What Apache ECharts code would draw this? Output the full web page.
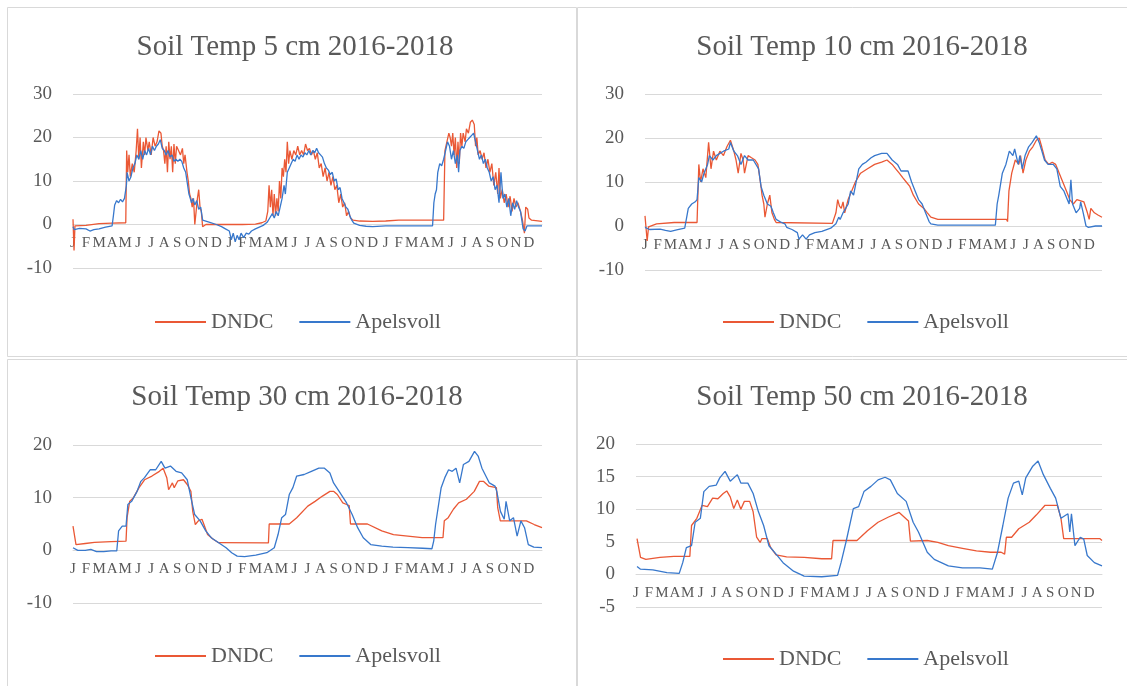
<!DOCTYPE html>
<html>
<head>
<meta charset="utf-8">
<script src="https://cdn.jsdelivr.net/npm/echarts/dist/echarts.min.js"></script>
<style>
  html, body { margin: 0; padding: 0; background: #fff; }
  #chart { width: 1127px; height: 686px; }
</style>
</head>
<body>
<div id="chart"></div>
<script>
// month letters along the x axis (3 years)
const monthLetters = ['J', 'F', 'M', 'A', 'M', 'J', 'J', 'A', 'S', 'O', 'N', 'D']
const seriesNames = ['DNDC', 'Apelsvoll']
const titles = ['Soil Temp 5 cm 2016-2018', 'Soil Temp 10 cm 2016-2018', 'Soil Temp 30 cm 2016-2018', 'Soil Temp 50 cm 2016-2018']

// [month since Jan 2016, soil temperature]
const dndc5 = [[0,1.2],[0.08,-6],[0.15,-0.3],[0.25,-0.6],[1,-0.2],[2,0.2],[3,0.3],[4.05,0.4],
  [4.12,17],[4.2,12],[4.3,16],[4.4,11],[4.55,14],[4.7,12],[4.85,17],[4.95,22],[5.05,15],[5.15,20],[5.25,13],[5.4,19],[5.5,16],[5.6,20],[5.75,17],[5.85,19],[6.0,16],[6.15,20],[6.3,18],[6.45,19],[6.6,21.5],[6.75,21],[6.85,18],[6.95,17],[7.05,14],[7.15,18],[7.25,12],[7.35,19],[7.45,15],[7.55,18],[7.65,12],[7.75,18.5],[7.85,14],[7.95,18],[8.1,17],[8.25,16],[8.4,17.5],[8.5,14],[8.6,16],[8.75,12],[8.85,10],[8.95,7],[9.05,6],[9.15,4],[9.25,6],[9.35,0],[9.45,3],[9.55,6],[9.65,8],[9.75,4],[9.85,3],[9.95,-0.5],
  [10.2,0],[11,0],[12,0],[13,0],[14,0.1],[14.5,0.4],[14.8,0.8],[14.95,3],[15.05,9],[15.15,4],[15.25,8],[15.35,2],[15.45,7],[15.55,2],[15.65,6],[15.75,3],[15.85,10],[15.95,6],[16.05,13],[16.15,11],[16.25,15],[16.35,12],[16.45,19],[16.55,14],[16.65,17],[16.8,15],[16.95,17],[17.1,16],[17.25,18],[17.4,16],[17.55,17],[17.7,16],[17.85,18.5],[18.0,17],[18.15,17.5],[18.3,16],[18.45,17],[18.6,15],[18.75,16.5],[18.9,13],[19.05,14],[19.2,11],[19.35,13],[19.5,10],[19.65,12],[19.8,9],[19.95,11],[20.1,8],[20.25,9],[20.4,5],[20.55,7],[20.7,4],[20.85,5],[21.0,2],[21.15,3],[21.3,1.5],[21.5,1],
  [22,0.8],[23,0.7],[24,0.8],[25,1],[26,1],[27,1],[28.45,1],
  [28.55,17],[28.7,19],[28.85,21],[28.95,20],[29.05,18],[29.15,21],[29.25,16],[29.35,20],[29.45,13],[29.55,19],[29.65,14],[29.75,21],[29.85,18],[29.95,21],[30.1,19],[30.2,22],[30.35,21],[30.5,23.5],[30.65,24],[30.8,23],[30.9,18],[31.0,20],[31.1,16],[31.25,17],[31.4,15],[31.55,16.5],[31.7,13],[31.85,15],[32.0,12],[32.15,14],[32.3,9],[32.45,12],[32.6,7],[32.7,13],[32.8,6],[32.95,8],[33.1,5],[33.25,7],[33.4,4],[33.55,6.5],[33.7,3],[33.85,6],[34.0,4],[34.15,5],[34.35,3],[34.5,1],[34.65,-2],[34.75,4],[34.9,3.5],[35.0,1.5],[35.2,1],[36,0.7]]

const apel5 = [[0,-0.5],[0.1,-1.2],[0.5,-0.9],[1,-1],[1.3,-1.5],[1.6,-1.2],[2,-1],[2.5,-0.6],[3,-0.3],[3.1,2],[3.2,4.5],[3.35,5.5],[3.5,5],[3.65,5.8],[3.8,5.2],[3.95,6],[4.1,9],[4.15,12],[4.3,10],[4.45,11],[4.6,13],[4.75,14],[4.9,16],[5.05,15],[5.2,17],[5.35,15],[5.5,17],[5.65,16],[5.8,17.5],[5.95,16],[6.1,18],[6.25,17],[6.4,18],[6.55,18.5],[6.7,19.5],[6.85,17.5],[7.0,17],[7.15,16],[7.3,17],[7.45,15.5],[7.6,16],[7.75,14.5],[7.9,15],[8.05,14.5],[8.2,15],[8.35,14.5],[8.5,13],[8.65,12],[8.8,9],[8.9,7],[9.0,6],[9.1,5],[9.2,6],[9.35,4.5],[9.5,5.5],[9.65,3.5],[9.8,4],[9.95,1],[10.1,0.8],[10.5,0.5],[11,0],[11.4,-0.5],[11.7,-1],[12,-1.5],[12.15,-3.5],[12.3,-2],[12.45,-4],[12.6,-2.5],[12.75,-3.5],[12.9,-2],[13.1,-3],[13.3,-2],[13.5,-2.2],[13.7,-1.5],[14,-1],[14.3,-0.6],[14.6,-0.2],[14.9,0.5],[15.1,1.5],[15.3,2.5],[15.45,1.5],[15.6,3],[15.75,2],[15.9,4],[16.05,6],[16.2,9],[16.3,7],[16.45,12],[16.6,13],[16.75,14],[16.9,15],[17.05,14.5],[17.2,16],[17.35,15],[17.5,16],[17.65,15.5],[17.8,16.5],[17.95,16],[18.1,17],[18.25,16],[18.4,17],[18.55,16.5],[18.7,17.5],[18.85,16.5],[19.0,16],[19.15,15.5],[19.3,14],[19.45,13],[19.6,12.5],[19.75,11.5],[19.9,12],[20.05,10],[20.2,10.5],[20.35,8],[20.5,8.5],[20.65,6],[20.8,5],[20.95,4],[21.1,3.5],[21.25,2],[21.4,1],[21.55,0.3],[22,-0.2],[22.5,-0.4],[23,-0.5],[24,-0.3],[25,-0.3],[26,-0.3],[27,-0.3],[27.6,-0.3],[27.7,5],[27.8,7],[27.9,8],[28.0,12],[28.15,14],[28.3,13.5],[28.45,15],[28.6,17],[28.75,19],[28.9,18],[29.05,15],[29.2,17],[29.35,14],[29.5,16],[29.6,12],[29.7,17],[29.85,18],[30.0,17.5],[30.15,19],[30.3,19.5],[30.45,20],[30.6,20.5],[30.75,21],[30.9,19],[31.05,17],[31.2,15],[31.35,16],[31.5,14],[31.65,15],[31.8,13],[31.95,12],[32.1,10],[32.25,11],[32.4,8],[32.55,9],[32.7,5],[32.85,12],[33.0,6],[33.15,7],[33.3,4],[33.45,6],[33.6,2],[33.75,5],[33.9,3.5],[34.05,5.5],[34.2,4],[34.35,3],[34.55,-1],[34.7,-1.5],[34.85,-0.3],[35.5,-0.3],[36,-0.3]]

const dndc10 = [[0,2.3],[0.17,-3.4],[0.28,-0.2],[0.91,0.5],[2.3,0.8],[4.1,0.8],[4.24,14],[4.38,10],[4.57,13],[4.79,11],[5.01,19],[5.2,13],[5.4,17],[5.62,15],[5.9,17],[6.18,16],[6.45,18],[6.73,19.5],[7.0,17],[7.17,15],[7.34,12],[7.56,16.5],[7.73,15],[7.84,12],[8.12,16],[8.39,15.5],[8.67,15],[8.89,14],[9.09,10],[9.22,7],[9.36,5],[9.45,2],[9.64,5],[9.83,7],[10.0,3],[10.19,1.5],[10.33,0.8],[14.76,0.6],[14.9,1],[15.04,3],[15.18,6],[15.32,4.5],[15.46,4],[15.6,5.5],[15.73,3],[16.0,6],[16.29,8],[16.57,10],[16.98,12],[17.53,13],[18.09,14],[18.64,14.5],[19.06,15],[19.47,14],[19.75,13],[20.03,12],[20.3,11],[20.58,10],[20.86,9],[21.14,7],[21.55,5],[21.97,4],[22.24,3],[22.52,2],[23.07,1.5],[28.48,1.5],[28.56,1],[28.67,8],[28.89,12],[29.17,15],[29.45,14],[29.58,16],[29.78,12],[30.0,15],[30.28,17],[30.55,18],[30.83,19.5],[31.05,20],[31.25,18],[31.52,15],[31.8,14],[32.08,14.5],[32.35,14],[32.49,13],[32.63,12],[32.91,10],[33.19,8],[33.46,6],[33.74,5],[34.02,6],[34.57,5.5],[34.85,3],[34.99,1.5],[35.12,4],[35.4,3],[35.68,2.5],[36,2]]

const apel10 = [[0,-0.3],[0.36,-0.8],[1.19,-0.7],[1.61,-1],[2.02,-1.2],[2.58,-0.8],[3.13,-0.5],[3.41,4],[3.68,5],[3.96,5.5],[4.1,6],[4.24,11],[4.46,10],[4.65,12],[4.93,14],[5.07,16],[5.35,15],[5.62,16],[5.9,16.5],[6.18,17],[6.6,17.5],[6.73,19],[7.0,17],[7.28,16],[7.56,14],[7.84,16],[8.12,15],[8.53,15],[8.95,13],[9.14,9],[9.36,7],[9.64,5],[9.92,4.5],[10.11,3],[10.33,1.5],[10.75,0.8],[11.02,0.5],[11.16,-0.3],[11.58,-0.8],[12.0,-1.5],[12.13,-3],[12.41,-2],[12.69,-3],[12.96,-2],[13.38,-1.5],[13.93,-1.2],[14.63,-0.5],[15.04,0.5],[15.26,2],[15.37,1.5],[15.6,3],[16.01,5],[16.2,8],[16.43,7],[16.7,11],[16.84,13],[17.12,14],[17.4,14.5],[17.81,15.5],[18.09,16],[18.64,16.5],[19.06,16.5],[19.47,15],[19.89,14],[20.17,12.5],[20.72,12.5],[21.0,10],[21.27,8],[21.55,6],[21.83,5],[22.1,3],[22.38,1],[22.52,0.5],[23.07,0.2],[27.6,0.2],[27.74,5],[27.87,7],[28.15,12],[28.43,14],[28.7,17],[28.98,16],[29.12,17.5],[29.4,14],[29.53,16],[29.72,13],[29.94,16],[30.22,18],[30.5,19],[30.83,20.5],[31.05,19],[31.27,17],[31.47,15],[31.75,14],[32.16,14],[32.44,13],[32.71,9],[32.99,8],[33.13,7],[33.41,5],[33.55,10.5],[33.68,5],[33.96,3],[34.24,4],[34.32,5.5],[34.52,3],[34.74,0],[34.93,-0.3],[35.48,0],[36,0]]

const dndc30 = [[0,4.6],[0.23,1.1],[0.94,1.3],[1.65,1.5],[2.93,1.65],[4.07,1.75],[4.15,6.2],[4.35,9.3],[4.64,10],[5.07,11.9],[5.49,13.4],[6.06,14.1],[6.63,15],[6.92,15.6],[7.2,13.8],[7.34,11.5],[7.63,12.8],[7.77,11.9],[8.05,13.2],[8.48,13.4],[8.77,12.5],[9.05,11.2],[9.19,7.4],[9.39,4.9],[9.62,5.6],[9.9,5.9],[10.05,4.9],[10.33,3],[10.76,2.1],[11.18,1.45],[15.0,1.4],[15.06,5.0],[16.6,5.0],[17.17,6.2],[18.02,8.4],[18.58,9.3],[19.15,10.3],[19.72,11.2],[20.0,11.2],[20.29,10.6],[20.71,9],[21.0,8.7],[21.2,8.5],[21.3,5.0],[22.6,5.0],[23.7,3.7],[24.6,3.0],[25.7,2.7],[26.8,2.4],[28.4,2.4],[28.5,5.6],[28.8,6.2],[29.2,7.8],[29.6,9],[30.2,9.7],[30.8,11.2],[31.2,13.1],[31.5,13.1],[31.9,12.2],[32.5,11.9],[32.6,8.1],[32.8,5.6],[34.8,5.6],[35.4,4.9],[36,4.3]]

const apel30 = [[0,0.5],[0.37,0],[0.94,0],[1.37,0.2],[1.8,-0.25],[2.36,-0.25],[2.93,-0.1],[3.36,-0.1],[3.5,3.7],[3.78,4.6],[4.07,4.6],[4.21,8.7],[4.5,9.3],[4.92,11.2],[5.21,13.1],[5.49,13.8],[5.92,15.3],[6.35,15.3],[6.77,16.9],[7.06,15.6],[7.48,16],[7.91,15],[8.34,14.7],[8.77,13.4],[9.05,10],[9.34,6.8],[9.76,5.6],[10.19,3.7],[10.61,2.4],[11.18,1.45],[11.75,0.5],[12.18,-0.45],[12.6,-1.1],[13.17,-1.2],[14.03,-0.9],[14.88,-0.45],[15.45,0.5],[15.74,3],[16.02,6.2],[16.31,6.8],[16.6,10.6],[16.88,11.9],[17.17,14.1],[17.74,14.4],[18.3,15],[18.87,15.6],[19.3,15.6],[19.72,14.7],[20.0,12.8],[20.43,11.2],[21.0,9],[21.43,6.8],[21.85,4.3],[22.28,2.4],[22.85,1.1],[23.7,0.8],[24.56,0.6],[25.7,0.5],[26.83,0.4],[27.55,0.3],[27.69,1.8],[27.83,4.9],[28.26,11.9],[28.54,13.8],[28.83,15.3],[29.11,15],[29.4,15.6],[29.68,12.8],[29.97,16.3],[30.39,16.9],[30.82,18.8],[31.1,17.9],[31.39,15.6],[31.96,12.8],[32.39,12.2],[32.53,11.2],[32.81,7.4],[33.1,5.9],[33.24,9.3],[33.52,5.6],[33.81,6.2],[34.09,2.7],[34.38,5.6],[34.66,4.3],[34.95,1.1],[35.37,0.6],[36,0.5]]

const dndc50 = [[0.08,5.5],[0.35,2.6],[0.76,2.3],[1.85,2.6],[2.93,2.75],[4.16,2.75],[4.29,7.5],[4.7,8.6],[5.11,10.6],[5.52,10.4],[5.92,11.7],[6.33,11.6],[6.74,12.4],[7.01,12.8],[7.28,11.9],[7.55,10.1],[7.83,11.4],[8.1,10],[8.37,11.2],[8.78,11.2],[9.05,9.6],[9.32,5.7],[9.59,4.9],[9.73,5.5],[10.14,5.5],[10.41,4.1],[10.82,3.0],[11.63,2.7],[12.99,2.6],[14.35,2.4],[15.11,2.4],[15.22,5.2],[17.07,5.2],[17.88,6.7],[18.7,8.0],[19.51,8.8],[20.33,9.5],[21.05,8.2],[21.2,5.1],[22.5,5.2],[23.32,4.9],[24.13,4.4],[25.22,4.0],[26.3,3.6],[27.39,3.4],[28.21,3.4],[28.48,3.1],[28.61,5.7],[29.02,5.7],[29.57,7.0],[30.38,8.0],[30.92,9.1],[31.6,10.6],[32.55,10.6],[32.83,8.6],[33.04,5.5],[35.82,5.5],[36,5.2]]

const apel50 = [[0.08,1.2],[0.35,0.8],[1.3,0.7],[2.39,0.26],[3.34,0.15],[3.61,1.8],[3.89,4.1],[4.29,4.4],[4.57,8.0],[4.97,8.6],[5.24,12.7],[5.65,13.5],[6.2,13.7],[6.47,14.8],[6.88,15.8],[7.28,14.3],[7.83,15.3],[8.1,14],[8.64,14],[9.05,12.4],[9.46,9.6],[9.86,7.5],[10.27,4.4],[10.82,3.1],[11.36,1.8],[12.17,0.5],[12.99,-0.26],[14.35,-0.36],[15.57,-0.15],[15.84,1.8],[16.25,5.2],[16.79,10.1],[17.2,10.4],[17.61,12.7],[18.15,13.5],[18.7,14.5],[19.24,14.9],[19.65,14.5],[20.19,12.4],[20.87,11.2],[21.41,8.0],[21.82,6.5],[22.5,3.4],[23.04,2.3],[24.13,1.3],[25.22,1.0],[26.58,1.0],[27.53,0.8],[27.93,3.4],[28.34,7.5],[28.75,11.7],[29.16,14],[29.57,14.3],[29.84,12.2],[30.11,14.8],[30.65,16.6],[31.06,17.4],[31.47,15.3],[32.01,13.2],[32.42,11.7],[32.83,8.6],[33.37,9.3],[33.51,6.5],[33.64,9.3],[33.91,4.4],[34.32,5.7],[34.59,5.4],[34.86,2.9],[35.41,1.8],[36,1.3]]

const yRanges = [[-10, 30, 10], [-10, 30, 10], [-10, 20, 10], [-5, 20, 5]]

const panelData = [[dndc5, apel5], [dndc10, apel10], [dndc30, apel30], [dndc50, apel50]]

const FONT = 'Liberation Serif'
const TXT = '#595959'
const GRIDC = '#d9d9d9'
const colors = ['#EA5835', '#3878CC']

// layout of the four panels
const panels = [
  {box: [7, 7, 569, 349], grid: [73, 94, 469, 174], title: [290, 28], legend: [150, 306]},
  {box: [577, 7, 570, 349], grid: [645, 94, 457, 176], title: [857, 28], legend: [718, 306]},
  {box: [7, 359, 569, 340], grid: [73, 445, 469, 158], title: [292, 378], legend: [150, 640]},
  {box: [577, 359, 570, 340], grid: [636, 444, 466, 163], title: [857, 378], legend: [718, 643]}
]

const chart = echarts.init(document.getElementById('chart'))

const option = {
  backgroundColor: '#fff',
  animation: false,
  textStyle: {fontFamily: FONT},
  graphic: panels.map(p => ({
    type: 'rect',
    shape: {x: p.box[0] + 0.5, y: p.box[1] + 0.5, width: p.box[2], height: p.box[3]},
    style: {fill: 'none', stroke: GRIDC, lineWidth: 1},
    silent: true
  })),
  title: panels.map((p, i) => ({
    text: titles[i],
    left: p.title[0],
    top: p.title[1],
    textAlign: 'center',
    textStyle: {fontFamily: FONT, fontSize: 29, fontWeight: 'normal', color: TXT}
  })),
  legend: panels.map(p => ({
    data: seriesNames,
    left: p.legend[0],
    top: p.legend[1],
    icon: 'rect',
    itemWidth: 51,
    itemHeight: 2,
    itemGap: 26,
    textStyle: {fontFamily: FONT, fontSize: 22, color: TXT}
  })),
  grid: panels.map(p => ({
    left: p.grid[0], top: p.grid[1], width: p.grid[2], height: p.grid[3], containLabel: false
  })),
  // x axis sits on the zero line, like the Excel original
  xAxis: panels.map((p, i) => ({
    type: 'value',
    gridIndex: i,
    min: 0,
    max: 36,
    interval: 1,
    position: 'bottom',
    offset: -Math.round(-yRanges[i][0] / (yRanges[i][1] - yRanges[i][0]) * p.grid[3]),
    splitLine: {show: false},
    axisTick: {show: false},
    axisLine: {show: true, onZero: false, lineStyle: {color: GRIDC}},
    axisLabel: {
      margin: 12,
      fontFamily: FONT,
      fontSize: 15,
      color: TXT,
      formatter: v => (v < 36 ? monthLetters[v % 12] : '')
    }
  })),
  yAxis: panels.map((p, i) => ({
    type: 'value',
    gridIndex: i,
    min: yRanges[i][0],
    max: yRanges[i][1],
    interval: yRanges[i][2],
    axisLine: {show: false},
    axisTick: {show: false},
    splitLine: {lineStyle: {color: GRIDC, width: 1}},
    axisLabel: {margin: 21, fontFamily: FONT, fontSize: 19, color: TXT}
  })),
  series: []
}

panelData.forEach((pair, i) => {
  pair.forEach((d, k) => {
    option.series.push({
      name: seriesNames[k],
      type: 'line',
      xAxisIndex: i,
      yAxisIndex: i,
      data: d,
      symbol: 'none',
      color: colors[k],
      lineStyle: {width: 1.3, color: colors[k]}
    })
  })
})

chart.setOption(option)
</script>
</body>
</html>
